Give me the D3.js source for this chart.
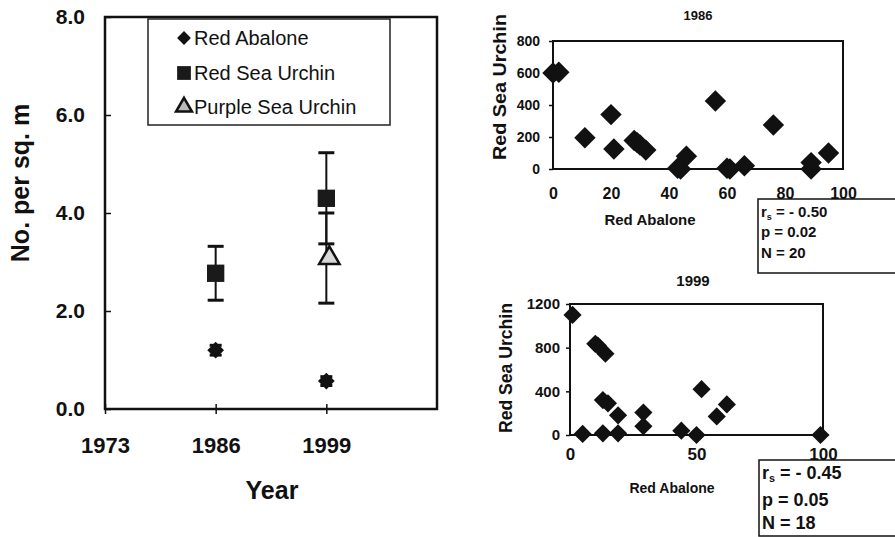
<!DOCTYPE html>
<html>
<head>
<meta charset="utf-8">
<script src="https://cdn.jsdelivr.net/npm/d3@7"></script>
<style>
  body { margin: 0; background: #fff; }
  svg { display: block; font-family: "Liberation Sans", Arial, sans-serif; }
</style>
</head>
<body>
<div class="chart"></div>
<script>
// left panel: density by year (mean +/- error)
const years = [1986, 1999];
const yearTicks = [1973, 1986, 1999];
const densityTicks = [0, 2, 4, 6, 8];
const abaloneMean = [1.2, 0.57];
const abaloneErr = [0.1, 0.09];
const redUrchinMean = [2.77, 4.3];
const redUrchinErr = [0.55, 0.93];
const purpleYears = [1999];
const purpleUrchinMean = [3.08];
const purpleUrchinErr = [0.92];
const seriesNames = ["Red Abalone", "Red Sea Urchin", "Purple Sea Urchin"];

// right panels: red abalone vs red sea urchin per site
const abalone1986 = [0, 2, 11, 20, 21, 28, 30, 32, 43, 46, 56, 61, 66, 76, 89, 89, 95, 29, 44, 60];
const urchin1986 = [600, 605, 195, 340, 125, 178, 150, 118, 5, 80, 425, 0, 20, 275, 40, 0, 100, 165, 0, 5];
const abalone1999 = [1, 5, 10, 14, 13, 15, 13, 19, 19, 29, 29, 44, 50, 52, 58, 62, 99, 11];
const urchin1999 = [1100, 10, 835, 745, 320, 290, 15, 180, 15, 205, 80, 40, 0, 420, 170, 280, 0, 820];
const xTicks1986 = [0, 20, 40, 60, 80, 100];
const yTicks1986 = [0, 200, 400, 600, 800];
const xTicks1999 = [0, 50, 100];
const yTicks1999 = [0, 400, 800, 1200];
const stats1986 = [" = - 0.50", "p = 0.02", "N = 20"];
const stats1999 = [" = - 0.45", "p = 0.05", "N = 18"];

const w = 895, h = 537;
const svg = d3.select('.chart').append('svg')
    .attr('width', w).attr('height', h);

// ---------- left panel ----------
const x = d3.scaleLinear().domain([1973, 2012]).range([105, 437]);
const y = d3.scaleLinear().domain([0, 8]).range([409, 17]);

svg.append('rect')
    .attr('x', x(1973)).attr('y', y(8))
    .attr('width', x(2012) - x(1973)).attr('height', y(0) - y(8))
    .attr('fill', 'none').attr('stroke', '#111').attr('stroke-width', 2.5);

const yAxis = svg.append('g')
    .attr('transform', `translate(${x(1973)},0)`)
    .call(d3.axisLeft(y).tickValues(densityTicks).tickFormat(d3.format('.1f'))
        .tickSizeInner(-6).tickSizeOuter(0).tickPadding(20));
yAxis.select('.domain').remove();
yAxis.selectAll('line').attr('stroke', '#111').attr('stroke-width', 1.5);
yAxis.selectAll('text').attr('font-size', 21).attr('font-weight', 'bold').attr('fill', '#111')
    .attr('font-family', '"Liberation Sans", Arial, sans-serif');

const xAxis = svg.append('g')
    .attr('transform', `translate(0,${y(0)})`)
    .call(d3.axisBottom(x).tickValues(yearTicks).tickFormat(d3.format('d'))
        .tickSizeInner(5).tickSizeOuter(0).tickPadding(23));
xAxis.select('.domain').remove();
xAxis.selectAll('line').attr('stroke', '#111').attr('stroke-width', 1.5).attr('y1', -5);
xAxis.selectAll('text').attr('font-size', 22).attr('font-weight', 'bold').attr('fill', '#111')
    .attr('font-family', '"Liberation Sans", Arial, sans-serif');

svg.append('text')
    .attr('x', 272).attr('y', 499)
    .attr('text-anchor', 'middle')
    .attr('font-size', 25).attr('font-weight', 'bold').attr('fill', '#111')
    .text('Year');

svg.append('text')
    .attr('transform', 'translate(29,183) rotate(-90)')
    .attr('text-anchor', 'middle')
    .attr('font-size', 25).attr('font-weight', 'bold').attr('fill', '#111')
    .text('No. per sq. m');

function errorBars(g, xs, means, errs, cap) {
    const sel = g.selectAll(null).data(xs.map((d, i) => ({ x: d, m: means[i], e: errs[i] })))
        .enter().append('g');
    sel.append('line')
        .attr('x1', d => x(d.x)).attr('x2', d => x(d.x))
        .attr('y1', d => y(d.m + d.e)).attr('y2', d => y(d.m - d.e))
        .attr('stroke', '#111').attr('stroke-width', 2);
    [1, -1].forEach(s => {
        sel.append('line')
            .attr('x1', d => x(d.x) - cap / 2).attr('x2', d => x(d.x) + cap / 2)
            .attr('y1', d => y(d.m + s * d.e)).attr('y2', d => y(d.m + s * d.e))
            .attr('stroke', '#111').attr('stroke-width', 3);
    });
}

const marks = svg.append('g');
errorBars(marks, years, redUrchinMean, redUrchinErr, 16);
errorBars(marks, purpleYears, purpleUrchinMean, purpleUrchinErr, 16);
errorBars(marks, years, abaloneMean, abaloneErr, 12);

const diamond = d3.symbol().type(d3.symbolSquare);
const square = d3.symbol().type(d3.symbolSquare);
const triangle = d3.symbol().type(d3.symbolTriangle);

marks.selectAll('.aba').data(years).enter().append('path')
    .attr('class', 'aba')
    .attr('d', diamond.size(140)())
    .attr('transform', (d, i) => `translate(${x(d)},${y(abaloneMean[i])}) rotate(45)`)
    .attr('fill', '#111');

marks.selectAll('.rsu').data(years).enter().append('path')
    .attr('class', 'rsu')
    .attr('d', square.size(300)())
    .attr('transform', (d, i) => `translate(${x(d)},${y(redUrchinMean[i])})`)
    .attr('fill', '#1a1a1a');

marks.selectAll('.psu').data(purpleYears).enter().append('path')
    .attr('class', 'psu')
    .attr('d', triangle.size(180)())
    .attr('transform', (d, i) => `translate(${x(d) + 3},${y(purpleUrchinMean[i])})`)
    .attr('fill', '#d8d8d8').attr('stroke', '#111').attr('stroke-width', 2.5);

// legend
const legend = svg.append('g');
legend.append('rect')
    .attr('x', 148).attr('y', 19).attr('width', 242).attr('height', 106)
    .attr('fill', '#fff').attr('stroke', '#222').attr('stroke-width', 1.5);
const legendY = [38, 73, 107];
const legendSym = [
    { d: diamond.size(95)(), rot: 45, fill: '#111', stroke: 'none' },
    { d: square.size(190)(), rot: 0, fill: '#1a1a1a', stroke: 'none' },
    { d: triangle.size(110)(), rot: 0, fill: '#bbb', stroke: '#111' }
];
const items = legend.selectAll('.item').data(seriesNames).enter().append('g')
    .attr('transform', (d, i) => `translate(0,${legendY[i]})`);
items.append('path')
    .attr('d', (d, i) => legendSym[i].d)
    .attr('transform', (d, i) => `translate(184,0) rotate(${legendSym[i].rot})`)
    .attr('fill', (d, i) => legendSym[i].fill)
    .attr('stroke', (d, i) => legendSym[i].stroke).attr('stroke-width', 2.5);
items.append('text')
    .attr('x', 194).attr('y', 7)
    .attr('font-size', 20).attr('fill', '#111')
    .text(d => d);

// ---------- scatter panels ----------
function scatter(cfg) {
    const sx = d3.scaleLinear().domain([0, 100]).range(cfg.xr);
    const sy = d3.scaleLinear().domain(cfg.yd).range(cfg.yr);
    const g = svg.append('g');

    g.append('rect')
        .attr('x', cfg.xr[0]).attr('y', cfg.yr[1])
        .attr('width', cfg.xr[1] - cfg.xr[0]).attr('height', cfg.yr[0] - cfg.yr[1])
        .attr('fill', 'none').attr('stroke', '#111').attr('stroke-width', 2);

    const ya = g.append('g').attr('transform', `translate(${cfg.xr[0]},0)`)
        .call(d3.axisLeft(sy).tickValues(cfg.yt).tickFormat(d3.format('d'))
            .tickSizeInner(4).tickSizeOuter(0).tickPadding(cfg.ypad));
    ya.select('.domain').remove();
    ya.selectAll('line').attr('stroke', '#111').attr('stroke-width', 1.5);
    ya.selectAll('text').attr('font-size', cfg.yfs).attr('font-weight', 'bold').attr('fill', '#111')
        .attr('font-family', '"Liberation Sans", Arial, sans-serif');

    const xa = g.append('g').attr('transform', `translate(0,${cfg.yr[0]})`)
        .call(d3.axisBottom(sx).tickValues(cfg.xt).tickFormat(d3.format('d'))
            .tickSizeInner(0).tickSizeOuter(0).tickPadding(cfg.xpad));
    xa.select('.domain').remove();
    xa.selectAll('text').attr('font-size', cfg.xfs).attr('font-weight', 'bold').attr('fill', '#111')
        .attr('font-family', '"Liberation Sans", Arial, sans-serif');

    g.selectAll('.pt').data(cfg.xs).enter().append('path')
        .attr('d', d3.symbol().type(d3.symbolSquare).size(cfg.ms)())
        .attr('transform', (d, i) => `translate(${sx(d)},${sy(cfg.ys[i])}) rotate(45)`)
        .attr('fill', '#111');

    g.append('text')
        .attr('x', cfg.title[0]).attr('y', cfg.title[1])
        .attr('text-anchor', 'middle').attr('font-size', cfg.title[2]).attr('font-weight', 'bold')
        .attr('fill', '#111').text(cfg.year);

    g.append('text')
        .attr('x', cfg.xl[0]).attr('y', cfg.xl[1])
        .attr('text-anchor', 'middle').attr('font-size', cfg.xl[2]).attr('font-weight', 'bold')
        .attr('fill', '#111').text('Red Abalone');

    g.append('text')
        .attr('transform', `translate(${cfg.yl[0]},${cfg.yl[1]}) rotate(-90)`)
        .attr('text-anchor', 'middle').attr('font-size', cfg.yl[2]).attr('font-weight', 'bold')
        .attr('textLength', cfg.yl[3]).attr('lengthAdjust', 'spacingAndGlyphs')
        .attr('fill', '#111').text('Red Sea Urchin');

    // stats box
    const b = cfg.box;
    g.append('rect')
        .attr('x', b[0]).attr('y', b[1]).attr('width', 200).attr('height', b[2])
        .attr('fill', '#fff').attr('stroke', '#111').attr('stroke-width', 1.5);
    cfg.stats.forEach((s, i) => {
        const t = g.append('text')
            .attr('x', b[0] + 3).attr('y', b[3][i])
            .attr('font-size', b[4]).attr('font-weight', 'bold').attr('fill', '#111');
        if (i === 0) {
            t.append('tspan').text('r');
            t.append('tspan').attr('font-size', b[4] * 0.6).attr('dy', 3).text('s');
            t.append('tspan').attr('dy', -3).text(s);
        } else {
            t.text(s);
        }
    });
}

scatter({
    year: '1986', xs: abalone1986, ys: urchin1986,
    xr: [553, 843], yd: [0, 800], yr: [169, 41],
    xt: xTicks1986, yt: yTicks1986, ypad: 9, xpad: 19, yfs: 14, xfs: 16, ms: 230,
    title: [698, 20, 13], xl: [650, 225, 15], yl: [506, 87, 18, 146],
    box: [758, 199, 74, [217, 237, 258], 15], stats: stats1986
});

scatter({
    year: '1999', xs: abalone1999, ys: urchin1999,
    xr: [570, 823], yd: [0, 1200], yr: [435, 304],
    xt: xTicks1999, yt: yTicks1999, ypad: 6, xpad: 13, yfs: 15, xfs: 17, ms: 165,
    title: [693, 286, 15], xl: [672, 493, 14], yl: [512, 368, 18, 130],
    box: [759, 460, 76, [479, 506, 529], 18], stats: stats1999
});
</script>
</body>
</html>
